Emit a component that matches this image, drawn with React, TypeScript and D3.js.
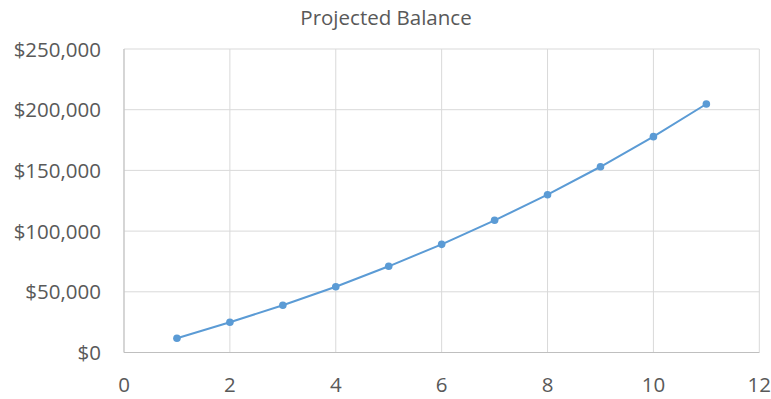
import React from "react";
import * as d3 from "d3";

const years: number[] = [1, 2, 3, 4, 5, 6, 7, 8, 9, 10, 11];
const balances: number[] = [11700, 24900, 38900, 54200, 71000, 89100, 108900, 130000, 153000, 177800, 204700];
const xTicks: number[] = [0, 2, 4, 6, 8, 10, 12];
const yTicks: number[] = [0, 50000, 100000, 150000, 200000, 250000];
const title = "Projected Balance";

const W = 771;
const H = 399;
const left = 124;
const right = 759.3;
const top = 49;
const bottom = 352.5;
const font = "'Open Sans', sans-serif";
const textColor = "#595959";

export default function App() {
  const x = d3.scaleLinear().domain([0, 12]).range([left, right]);
  const y = d3.scaleLinear().domain([0, 250000]).range([bottom, top]);
  const fmt = (v: number) => "$" + d3.format(",")(v);
  const line = d3
    .line<number>()
    .x((_, i) => x(years[i]))
    .y((d) => y(d));

  return (
    <svg width={W} height={H} style={{ position: "absolute", left: 0, top: 0 }}>
      <rect x={0} y={0} width={W} height={H} fill="#fff" />
      <text x={386} y={25} textAnchor="middle" fontFamily={font} fontSize={20.5} fill={textColor}>
        {title}
      </text>
      {xTicks.map((t) => (
        <line key={"gx" + t} x1={x(t)} x2={x(t)} y1={top} y2={bottom} stroke="#d9d9d9" strokeWidth={1} />
      ))}
      {yTicks.map((t) => (
        <line key={"gy" + t} x1={left} x2={right} y1={y(t)} y2={y(t)} stroke="#d9d9d9" strokeWidth={1} />
      ))}
      <line x1={left} x2={right} y1={bottom} y2={bottom} stroke="#bfbfbf" strokeWidth={1} />
      <line x1={left} x2={left} y1={top} y2={bottom} stroke="#bfbfbf" strokeWidth={1} />
      {yTicks.map((t) => (
        <text key={"ty" + t} x={101} y={y(t) + 7.5} textAnchor="end" fontFamily={font} fontSize={20.5} fill={textColor}>
          {fmt(t)}
        </text>
      ))}
      {xTicks.map((t) => (
        <text key={"tx" + t} x={x(t)} y={391.5} textAnchor="middle" fontFamily={font} fontSize={20.5} fill={textColor}>
          {t}
        </text>
      ))}
      <path d={line(balances) || ""} fill="none" stroke="#5B9BD5" strokeWidth={2} />
      {balances.map((b, i) => (
        <circle key={"p" + i} cx={x(years[i])} cy={y(b)} r={3.8} fill="#5B9BD5" />
      ))}
    </svg>
  );
}
